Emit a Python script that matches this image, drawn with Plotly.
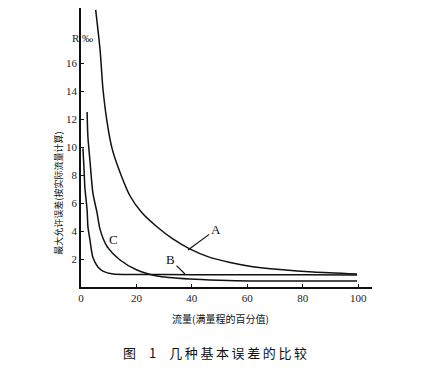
import plotly.graph_objects as go

# Flow (% of full scale) and max permissible error (‰) for curves A, B, C
flow_A = [5.3, 6.9, 7.9, 9.4, 11.2, 13.5, 17.7, 22, 27.4, 33, 39.4, 46, 53.8, 62, 71.8, 83.8, 99.6]
err_A = [19.8, 16.9, 14.2, 11.8, 9.9, 8.5, 6.5, 5.3, 4.3, 3.45, 2.7, 2.15, 1.75, 1.45, 1.25, 1.07, 0.93]

flow_B = [0.7, 1.1, 1.4, 2.2, 2.5, 3.2, 4.3, 6.1, 7.9, 11.6, 20, 40, 60, 80, 99.6]
err_B = [9.9, 8.4, 7.1, 5.5, 4.3, 3.4, 2.1, 1.43, 1.14, 0.93, 0.9, 0.88, 0.87, 0.87, 0.86]

flow_C = [2.2, 2.5, 3.2, 4.3, 5.8, 6.9, 9.4, 14.1, 20.2, 27.4, 39.4, 50, 61, 80, 99.6]
err_C = [12.5, 10.7, 9.1, 6.7, 5.3, 4.1, 2.9, 1.93, 1.21, 0.79, 0.57, 0.48, 0.43, 0.42, 0.42]

x_ticks = [0, 20, 40, 60, 80, 100]
y_ticks = [2, 4, 6, 8, 10, 12, 14, 16]

x_title = "流量(满量程的百分值)"
y_title = "最大允许误差(按实际流量计算)"
caption = "图\u20031\u2003几\u2009种\u2009基\u2009本\u2009误\u2009差\u2009的\u2009比\u2009较"
y_unit = "R ‰"

fig = go.Figure()
for xs, ys in [(flow_A, err_A), (flow_B, err_B), (flow_C, err_C)]:
    fig.add_trace(go.Scatter(x=xs, y=ys, mode="lines",
                             line=dict(color="#111111", width=1.5, shape="spline", smoothing=0.7),
                             showlegend=False, hoverinfo="skip"))

serif = "Liberation Serif"
cjk = "Noto Sans CJK SC"

# Curve labels with leader lines (label at ax/ay, pointing to curve point)
labels = [("A", 38.6, 2.65, 48.6, 4.1), ("B", 37.5, 0.93, 32.3, 1.95), ("C", 9.4, 2.8, 11.8, 3.4)]
annotations = []
for txt, px, py, tx, ty in labels:
    annotations.append(dict(x=px, y=py, ax=tx, ay=ty, axref="x", ayref="y", xref="x", yref="y",
                            text=txt, showarrow=True, arrowhead=0, arrowwidth=1.2, arrowcolor="#111111",
                            font=dict(family=serif, size=13, color="#111111"), standoff=0))

annotations += [
    dict(x=-0.106, y=0.337, xref="paper", yref="paper", text=y_title, textangle=-90, showarrow=False,
         font=dict(family=cjk, size=9, color="#111111")),
    dict(x=0.478, y=-0.147, xref="paper", yref="paper", text=x_title, showarrow=False,
         font=dict(family=cjk, size=10, color="#111111")),
    dict(x=0.46, y=-0.276, xref="paper", yref="paper", text=caption, showarrow=False,
         font=dict(family=cjk, size=13, color="#111111")),
    dict(x=-0.038, y=0.921, xref="paper", yref="paper", text=y_unit, showarrow=False,
         font=dict(family=serif, size=11, color="#222222")),
]

fig.update_layout(
    width=423, height=377,
    margin=dict(l=73, r=59, t=0, b=98),
    paper_bgcolor="white", plot_bgcolor="white",
    annotations=annotations,
    xaxis=dict(range=[0, 105], tickvals=x_ticks, ticktext=[str(v) for v in x_ticks],
               showgrid=False, zeroline=False, showline=True, linecolor="#111111", linewidth=1.5,
               ticks="inside", ticklen=3, tickcolor="#111111",
               tickfont=dict(family=serif, size=11, color="#222222")),
    yaxis=dict(range=[0, 19.93], tickvals=y_ticks, ticktext=[str(v) for v in y_ticks],
               showgrid=False, zeroline=False, showline=True, linecolor="#111111", linewidth=1.5,
               ticks="inside", ticklen=3, tickcolor="#111111",
               tickfont=dict(family=serif, size=11, color="#222222")),
)

fig.write_html("out.html")
